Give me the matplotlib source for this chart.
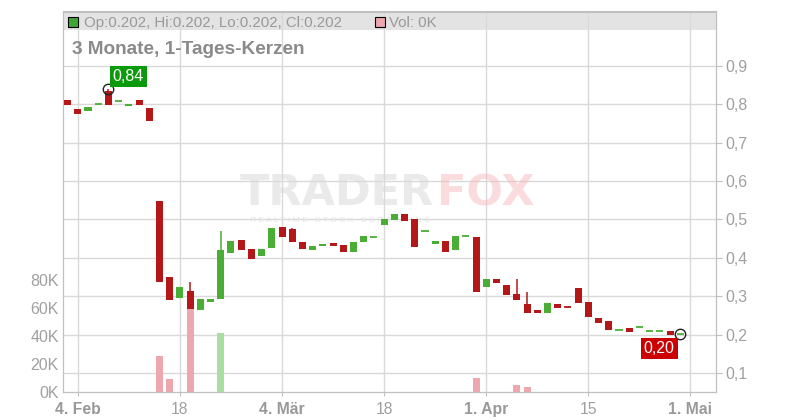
import matplotlib.pyplot as plt
from matplotlib.patches import Rectangle

# trading days shown on the chart (ordinal axis, no weekends / holidays)
days = [
    "2025-02-03", "2025-02-04", "2025-02-05", "2025-02-06", "2025-02-07",
    "2025-02-10", "2025-02-11", "2025-02-12", "2025-02-13", "2025-02-14",
    "2025-02-17", "2025-02-18", "2025-02-19", "2025-02-20", "2025-02-21",
    "2025-02-24", "2025-02-25", "2025-02-26", "2025-02-27", "2025-02-28",
    "2025-03-03", "2025-03-04", "2025-03-05", "2025-03-06", "2025-03-07",
    "2025-03-10", "2025-03-11", "2025-03-12", "2025-03-13", "2025-03-14",
    "2025-03-17", "2025-03-18", "2025-03-19", "2025-03-20", "2025-03-21",
    "2025-03-24", "2025-03-25", "2025-03-26", "2025-03-27", "2025-03-28",
    "2025-03-31", "2025-04-01", "2025-04-02", "2025-04-03", "2025-04-04",
    "2025-04-07", "2025-04-08", "2025-04-09", "2025-04-10", "2025-04-11",
    "2025-04-14", "2025-04-15", "2025-04-16", "2025-04-17", "2025-04-22",
    "2025-04-23", "2025-04-24", "2025-04-25", "2025-04-28", "2025-04-29",
    "2025-04-30",
]

opens = [
    0.811, 0.788, 0.783, 0.800, 0.835, 0.808, 0.795, 0.810, 0.790, 0.548,
    0.350, 0.295, 0.314, 0.265, 0.286, 0.293, 0.413, 0.446, 0.423, 0.404,
    0.425, 0.480, 0.475, 0.441, 0.420, 0.430, 0.439, 0.433, 0.416, 0.441,
    0.455, 0.485, 0.498, 0.514, 0.501, 0.470, 0.437, 0.444, 0.420, 0.457,
    0.455, 0.325, 0.345, 0.329, 0.306, 0.280, 0.264, 0.257, 0.280, 0.272,
    0.321, 0.285, 0.244, 0.236, 0.211, 0.218, 0.219, 0.209, 0.209, 0.209,
    0.202,
]
closes = [
    0.798, 0.774, 0.793, 0.800, 0.798, 0.808, 0.800, 0.797, 0.756, 0.337,
    0.290, 0.324, 0.267, 0.293, 0.293, 0.420, 0.444, 0.420, 0.398, 0.423,
    0.478, 0.455, 0.440, 0.424, 0.430, 0.436, 0.432, 0.416, 0.441, 0.456,
    0.455, 0.501, 0.514, 0.495, 0.429, 0.470, 0.443, 0.414, 0.456, 0.459,
    0.312, 0.345, 0.335, 0.304, 0.290, 0.257, 0.257, 0.282, 0.268, 0.270,
    0.283, 0.247, 0.231, 0.213, 0.211, 0.208, 0.219, 0.209, 0.209, 0.200,
    0.202,
]
highs = [
    0.811, 0.788, 0.793, 0.800, 0.840, 0.808, 0.800, 0.810, 0.790, 0.548,
    0.350, 0.324, 0.337, 0.293, 0.293, 0.470, 0.444, 0.446, 0.423, 0.423,
    0.478, 0.480, 0.478, 0.441, 0.430, 0.436, 0.439, 0.433, 0.441, 0.456,
    0.455, 0.501, 0.514, 0.514, 0.501, 0.470, 0.443, 0.444, 0.456, 0.459,
    0.455, 0.345, 0.345, 0.329, 0.345, 0.311, 0.264, 0.282, 0.280, 0.272,
    0.321, 0.285, 0.244, 0.236, 0.211, 0.218, 0.219, 0.209, 0.209, 0.209,
    0.202,
]
lows = [
    0.798, 0.774, 0.783, 0.800, 0.798, 0.808, 0.795, 0.797, 0.756, 0.337,
    0.290, 0.295, 0.267, 0.265, 0.286, 0.293, 0.413, 0.420, 0.398, 0.404,
    0.425, 0.455, 0.440, 0.424, 0.420, 0.430, 0.432, 0.416, 0.416, 0.441,
    0.455, 0.485, 0.498, 0.495, 0.429, 0.470, 0.437, 0.414, 0.420, 0.457,
    0.312, 0.325, 0.335, 0.304, 0.290, 0.257, 0.257, 0.257, 0.268, 0.270,
    0.283, 0.247, 0.231, 0.213, 0.211, 0.208, 0.219, 0.209, 0.209, 0.200,
    0.202,
]
volumes = [0] * 61
volumes[9] = 25700
volumes[10] = 9300
volumes[12] = 59300
volumes[15] = 42100
volumes[40] = 10000
volumes[44] = 5000
volumes[45] = 3600

tick_days = ["2025-02-04", "2025-02-18", "2025-03-04", "2025-03-18",
             "2025-04-01", "2025-04-15", "2025-05-01"]
tick_labels = ["4. Feb", "18", "4. Mär", "18", "1. Apr", "15", "1. Mai"]
price_ticks = [0.1, 0.2, 0.3, 0.4, 0.5, 0.6, 0.7, 0.8, 0.9]
price_labels = ["0,1", "0,2", "0,3", "0,4", "0,5", "0,6", "0,7", "0,8", "0,9"]
vol_ticks = [0, 20000, 40000, 60000, 80000]
vol_labels = ["0K", "20K", "40K", "60K", "80K"]

RED = "#b31717"
GREEN = "#4aae34"
VOL_RED = "#eea6af"
VOL_GREEN = "#aadda2"
GRID = "#d9d9d9"
AXIS = "#c0c0c0"
LABEL = "#a0a0a0"

plt.rcParams["font.family"] = ["Liberation Sans", "DejaVu Sans"]

fig = plt.figure(figsize=(8, 4.2), dpi=100)
ax_vol = fig.add_axes([63 / 800, 28 / 420, 653 / 800, 380.5 / 420])
ax_price = ax_vol.twinx()

x = list(range(len(days)))
xmin, xmax = -0.45, 63.5

# header band
ax_vol.add_patch(Rectangle((0, 0.9514), 1, 0.0486, transform=ax_vol.transAxes,
                           facecolor="#e3e3e3", edgecolor="none", zorder=0))

# watermark (inside the lower axes so the candles sit on top of it)
ax_vol.text(240 / 800, 1 - 205 / 420, "TRADER", transform=fig.transFigure,
            fontsize=31, fontweight="bold", family="DejaVu Sans",
            color="#dcdcdc", alpha=0.6, zorder=1)
ax_vol.text(437 / 800, 1 - 205 / 420, "FOX", transform=fig.transFigure,
            fontsize=31, fontweight="bold", family="DejaVu Sans",
            color="#f7b8bf", alpha=0.5, zorder=1)
ax_vol.text(250 / 800, 1 - 222 / 420, "R E A L T I M E   S T O C K   S C R E E N I N G",
            transform=fig.transFigure, fontsize=6.1, color="#dedede", alpha=0.8,
            zorder=1)

# volume bars
vol_colors = [VOL_RED if c < o else VOL_GREEN for o, c in zip(opens, closes)]
ax_vol.bar(x, volumes, width=0.69, color=vol_colors, zorder=2)
ax_vol.set_ylim(0, 271800)
ax_vol.set_xlim(xmin, xmax)

# ticks on x (ordinal positions; 1. Mai is the next slot after the data)
tick_pos = [days.index(d) if d in days else len(days) for d in tick_days]
ax_vol.set_xticks(tick_pos)
ax_vol.set_xticklabels(tick_labels)
for lbl, txt in zip(ax_vol.get_xticklabels(), tick_labels):
    lbl.set_fontweight("bold" if "." in txt else "normal")
    lbl.set_color("#999999" if "." in txt else LABEL)
ax_vol.set_axisbelow(True)
ax_vol.grid(axis="x", color=GRID, linewidth=1)
ax_vol.tick_params(axis="x", length=3, color=AXIS, labelsize=11.3, pad=4)

ax_vol.set_yticks(vol_ticks)
ax_vol.set_yticklabels(vol_labels)
ax_vol.tick_params(axis="y", length=0, pad=3, labelsize=11.5, labelcolor=LABEL)

# price gridlines drawn behind the volume bars
ax_vol.hlines(price_ticks, xmin, xmax, transform=ax_price.transData,
              colors=GRID, linewidth=1, zorder=0.6)

for a in (ax_vol, ax_price):
    for s in a.spines.values():
        s.set_color(AXIS)

# candles
for i in x:
    o, c, h, l = opens[i], closes[i], highs[i], lows[i]
    col = RED if c < o else GREEN
    ax_price.vlines(i, l, h, color=col, linewidth=1.1, zorder=3)
    if abs(c - o) < 0.004:
        ax_price.hlines((o + c) / 2, i - 0.345, i + 0.345, color=col,
                        linewidth=1.3, zorder=4)
    else:
        ax_price.bar(i, abs(c - o), bottom=min(o, c), width=0.69, color=col,
                     zorder=4)

ax_price.set_ylim(0.0505, 1.0414)
ax_price.set_xlim(xmin, xmax)
ax_price.set_yticks(price_ticks)
ax_price.set_yticklabels(price_labels)
ax_price.tick_params(axis="y", length=4, color=AXIS, pad=3, labelsize=11.5,
                     labelcolor=LABEL)

# high / last markers with value flags
hi_i = 4
last_i = len(days) - 1
ax_price.plot([hi_i, last_i], [highs[hi_i], closes[last_i]], "o", ms=7.5,
              mfc="none", mec="#222222", mew=1, zorder=6)
ax_price.annotate("0,84", (hi_i, highs[hi_i]), xytext=(20, 12),
                  textcoords="offset pixels", ha="center", va="center",
                  color="white", fontsize=11.5, zorder=7,
                  bbox=dict(boxstyle="square,pad=0.18", fc="#0b9a0b", ec="none"))
ax_price.annotate("0,20", (last_i, closes[last_i]), xytext=(-21, -15),
                  textcoords="offset pixels", ha="center", va="center",
                  color="white", fontsize=11.5, zorder=7,
                  bbox=dict(boxstyle="square,pad=0.18", fc="#cc0000", ec="none"))

# header texts
fig.text(72 / 800, 1 - 54 / 420, "3 Monate, 1-Tages-Kerzen", fontsize=13.7,
         fontweight="bold", color="#8a8a8a", va="baseline")
fig.patches.append(Rectangle((68 / 800, 1 - 26.7 / 420), 10 / 800, 10 / 420,
                             transform=fig.transFigure, facecolor="#3fa535",
                             edgecolor="black", linewidth=0.8))
fig.text(84 / 800, 1 - 27.3 / 420, "Op:0.202, Hi:0.202, Lo:0.202, Cl:0.202",
         fontsize=10.8, color="#999999", va="baseline")
fig.patches.append(Rectangle((374.5 / 800, 1 - 26.7 / 420), 10 / 800, 10 / 420,
                             transform=fig.transFigure, facecolor="#eea6af",
                             edgecolor="black", linewidth=0.8))
fig.text(389 / 800, 1 - 27.3 / 420, "Vol: 0K", fontsize=10.8, color="#999999",
         va="baseline")

fig.savefig("out.png", dpi=100)
